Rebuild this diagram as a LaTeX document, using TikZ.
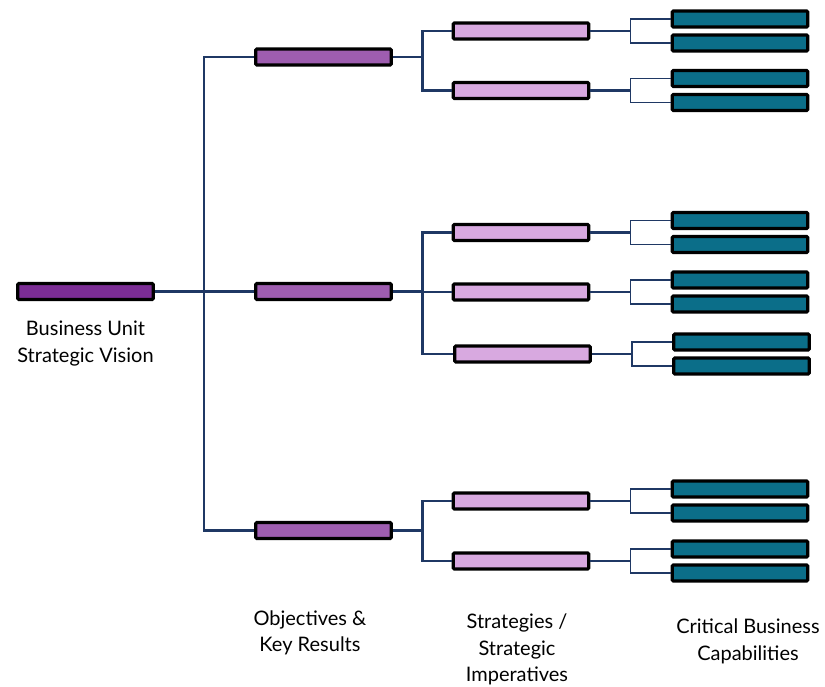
\documentclass[tikz,border=0pt]{standalone}
\usepackage{fontspec}
\setmainfont{Lato}
\usetikzlibrary{positioning}
\definecolor{visionfill}{HTML}{7B2D95}
\definecolor{objfill}{HTML}{9E5DB0}
\definecolor{stratfill}{HTML}{D8A9E0}
\definecolor{capfill}{HTML}{0B6E89}
\definecolor{linknavy}{HTML}{1F3864}
\tikzset{
  bar/.style={draw=black,line width=3.2pt,rounded corners=1.2pt,
    minimum width=135.5pt,minimum height=16pt,inner sep=0pt},
  link/.style={draw=linknavy,line width=2.2pt},
  twig/.style={draw=linknavy,line width=1.7pt},
  caption/.style={align=center,font=\fontsize{20}{26.5}\selectfont,inner sep=0pt}
}
\begin{document}
\begin{tikzpicture}[x=1pt,y=-1pt]
\useasboundingbox (0,0) rectangle (825,687);
% root
\node[bar,fill=visionfill] (vision) at (85.5,291.5) {};
\node[caption,below=20pt of vision] (visionlbl) {Business Unit\\Strategic Vision};
\coordinate (trunk) at (204,291.5);
% objectives
\foreach \o/\y in {1/57,2/291.5,3/530.5}{
  \node[bar,fill=objfill] (obj\o) at (323.5,\y) {};
  \coordinate (fork\o) at (422.5,\y);
  \draw[link] (trunk) |- (obj\o.west);
  \draw[link] (obj\o.east) -- (fork\o);
}
\draw[link] (vision.east) -- (trunk);
% strategies and capabilities
\foreach \s/\o/\y/\x in {a/1/31/521,b/1/90.5/521,c/2/232.5/521,d/2/292/521,
                         e/2/354/522.5,f/3/501/521,g/3/561/521}{
  \node[bar,fill=stratfill] (strat\s) at (\x,\y) {};
  \draw[link] (fork\o) |- (strat\s.west);
  \node[bar,fill=capfill] (cap\s1) at ({\x+219},{\y-12}) {};
  \node[bar,fill=capfill] (cap\s2) at ({\x+219},{\y+12}) {};
  \coordinate (twig\s) at ({\x+109.5},\y);
  \draw[link] (strat\s.east) -- (twig\s);
  \draw[twig] (cap\s1.west) -| (twig\s) |- (cap\s2.west);
}
% column captions
\node[caption] (objlbl) at (310,633) {Objectives \&\\Key Results};
\node[caption] (stratlbl) at (517,649.5) {Strategies /\\Strategic\\Imperatives};
\node[caption] (caplbl) at (748,641.5) {Critical Business\\Capabilities};
\end{tikzpicture}
\end{document}
